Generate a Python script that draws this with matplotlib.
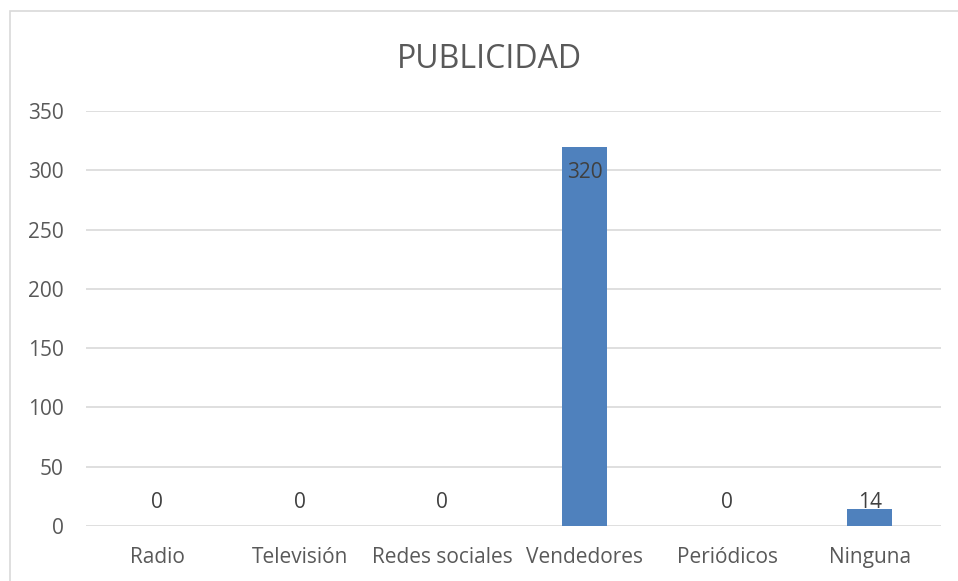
import numpy as np
import matplotlib
matplotlib.use("Agg")
import matplotlib.pyplot as plt
from matplotlib.patches import Rectangle

categorias = ["Radio", "Televisión", "Redes sociales", "Vendedores", "Periódicos", "Ninguna"]
valores = [0, 0, 0, 320, 0, 14]
y_ticks = [0, 50, 100, 150, 200, 250, 300, 350]

gris = "#595959"
azul = "#4F81BD"

plt.rcParams['font.family'] = ['Open Sans', 'DejaVu Sans']

fig = plt.figure(figsize=(9.58, 5.81), dpi=100)
# marco del gráfico
fig.patches.append(Rectangle((10 / 958, -0.05), 1.0, 1 - 11 / 581 + 0.05,
                             transform=fig.transFigure, fill=False,
                             edgecolor="#D9D9D9", linewidth=1.2))

ax = fig.add_axes([86 / 958, 1 - 526 / 581, (941 - 86) / 958, (526 - 111) / 581])
x = np.arange(len(categorias))
ax.bar(x, valores, width=0.315, color=azul, zorder=3)

ax.set_xlim(-0.5, len(categorias) - 0.5)
ax.set_ylim(0, 350)
ax.set_yticks(y_ticks)
ax.set_xticks(x)
ax.set_xticklabels(categorias)
ax.tick_params(axis='both', length=0, labelsize=15, colors=gris)
ax.tick_params(axis='y', pad=16)
ax.tick_params(axis='x', pad=15)
ax.grid(axis='y', color="#D9D9D9", linewidth=1.2, zorder=0)
for s in ax.spines.values():
    s.set_visible(False)

# etiquetas de datos
for xi, v in zip(x, valores):
    if v > 100:
        ax.text(xi, v - 22, str(v), ha='center', va='center', fontsize=15, color="#404040", zorder=4)
    else:
        ax.text(xi, max(v + 1, 15), str(v), ha='center', va='baseline', fontsize=15, color="#404040", zorder=4)

fig.text(489.5 / 958, 1 - 59 / 581, "PUBLICIDAD", ha='center', va='center', fontsize=23, color=gris)

fig.savefig("out.png", dpi=100)
